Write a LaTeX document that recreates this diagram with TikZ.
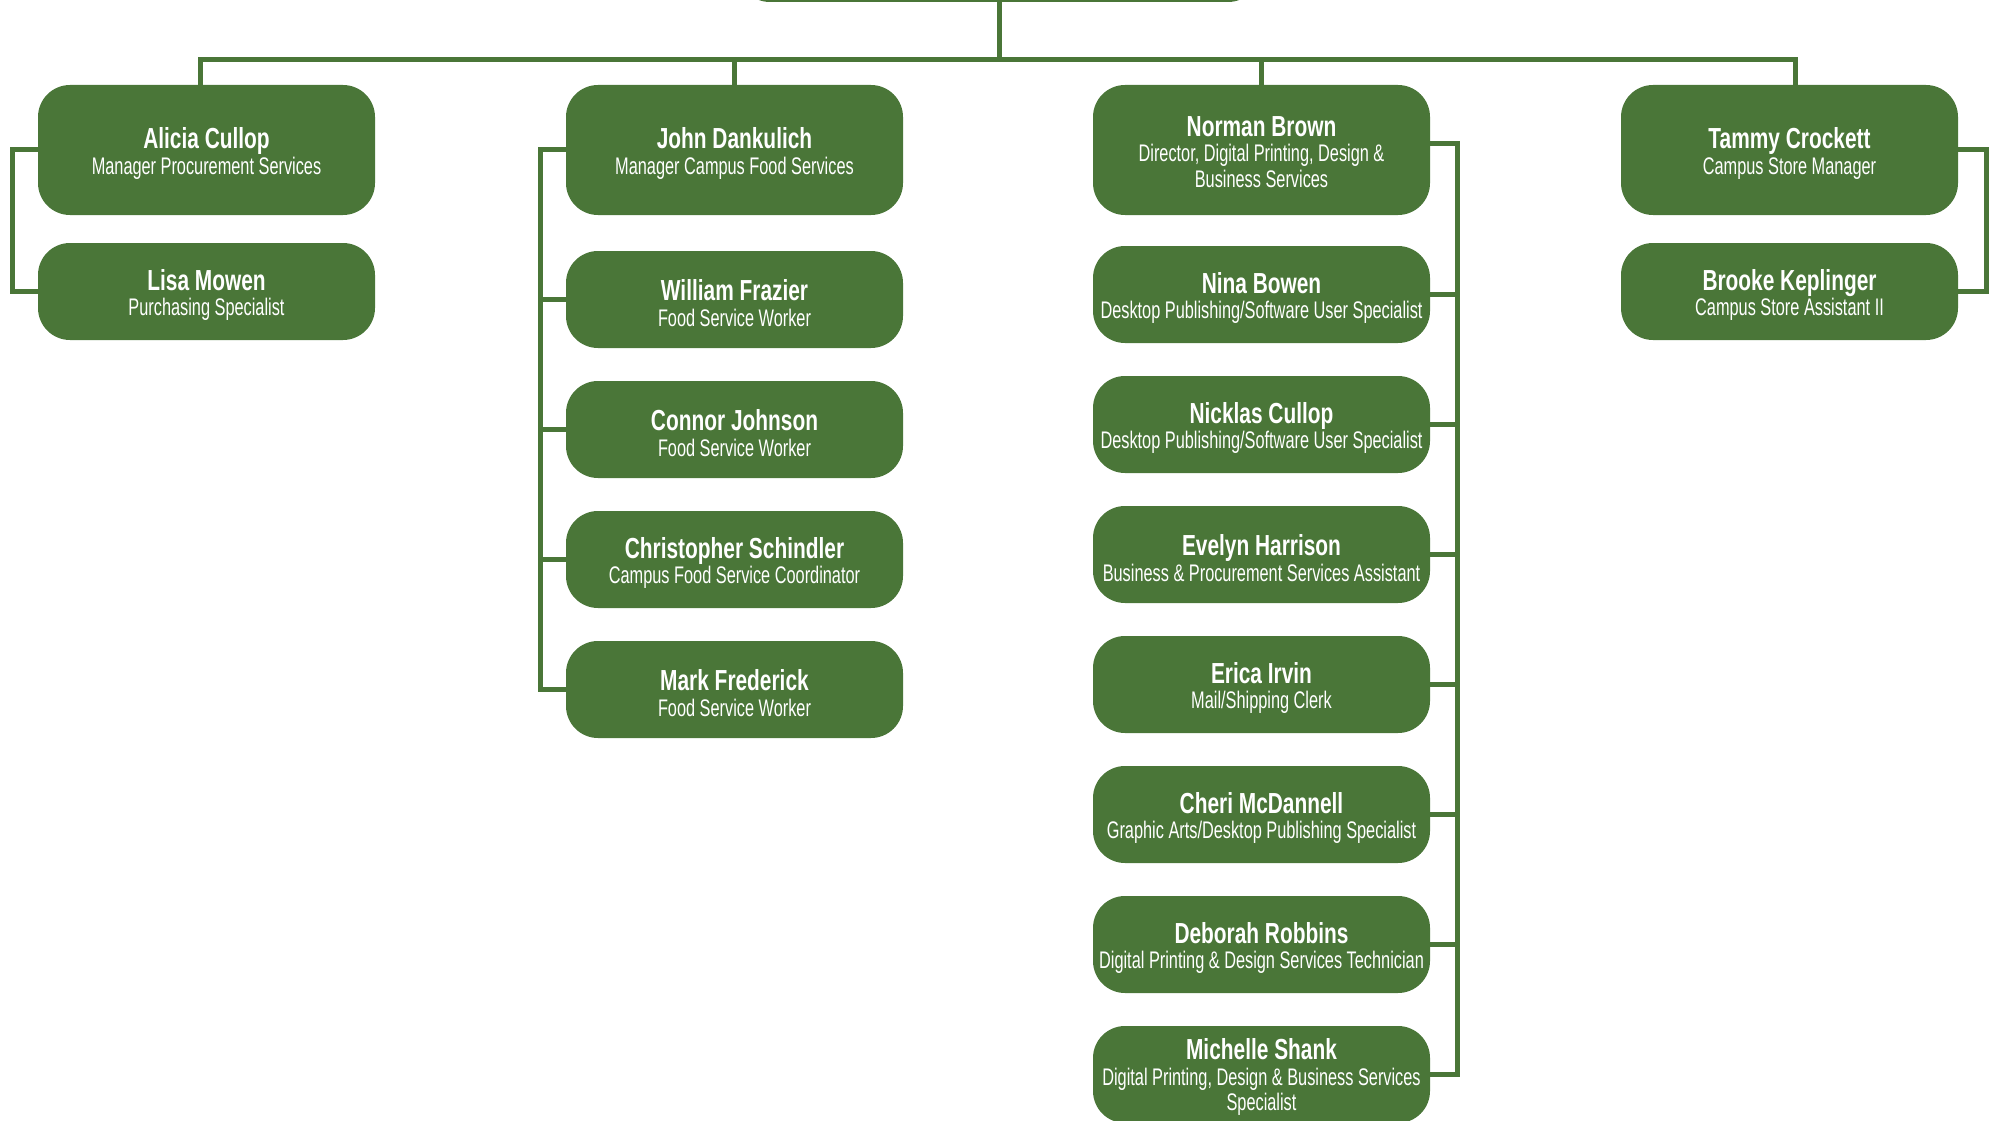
\documentclass[tikz,border=0pt]{standalone}
\usepackage{fontspec}
\newfontfamily\namefont[FakeStretch=0.72]{Liberation Sans}
\newfontfamily\titlefont[FakeStretch=0.68]{Liberation Sans}
\definecolor{orggreen}{RGB}{74,118,56}
\tikzset{
  bigbox/.style={rectangle, rounded corners=32pt, fill=orggreen,
    minimum width=337pt, minimum height=130pt, inner sep=0pt},
  smallbox/.style={bigbox, minimum height=97pt},
  txt/.style={text=white, align=center, inner sep=0pt, yshift=-3.5pt,
    font=\titlefont\fontsize{24}{25.5}\selectfont},
  link/.style={draw=orggreen, line width=5pt},
}
\newcommand{\nm}[1]{{\namefont\bfseries\fontsize{29}{26}\selectfont #1}}
\begin{document}
\begin{tikzpicture}[x=1pt,y=-1pt]
\useasboundingbox (0,0) rectangle (1995,1121);
% top box (cut off)
\node[bigbox, minimum width=522pt, minimum height=124pt] (top) at (999,-60) {};
% column 1
\node[bigbox, label={[txt]center:{\nm{Alicia Cullop}\\Manager Procurement Services}}] (alicia) at (206.5,150) {};
\node[smallbox, label={[txt]center:{\nm{Lisa Mowen}\\Purchasing Specialist}}] (lisa) at (206.5,291.5) {};
% column 2
\node[bigbox, label={[txt]center:{\nm{John Dankulich}\\Manager Campus Food Services}}] (john) at (734.5,150) {};
\node[smallbox, label={[txt]center:{\nm{William Frazier}\\Food Service Worker}}] (william) at (734.5,299.5) {};
\node[smallbox, label={[txt]center:{\nm{Connor Johnson}\\Food Service Worker}}] (connor) at (734.5,429.5) {};
\node[smallbox, label={[txt]center:{\nm{Christopher Schindler}\\Campus Food Service Coordinator}}] (chris) at (734.5,559.5) {};
\node[smallbox, label={[txt]center:{\nm{Mark Frederick}\\Food Service Worker}}] (mark) at (734.5,689.5) {};
% column 3
\node[bigbox, label={[txt,yshift=1.5pt]center:{\nm{Norman Brown}\\Director, Digital Printing, Design \&\\Business Services}}] (norman) at (1261.5,150) {};
\node[smallbox, label={[txt]center:{\nm{Nina Bowen}\\Desktop Publishing/Software User Specialist}}] (nina) at (1261.5,294.5) {};
\node[smallbox, label={[txt]center:{\nm{Nicklas Cullop}\\Desktop Publishing/Software User Specialist}}] (nicklas) at (1261.5,424.5) {};
\node[smallbox, label={[txt]center:{\nm{Evelyn Harrison}\\Business \& Procurement Services Assistant}}] (evelyn) at (1261.5,554.5) {};
\node[smallbox, label={[txt]center:{\nm{Erica Irvin}\\Mail/Shipping Clerk}}] (erica) at (1261.5,684.5) {};
\node[smallbox, label={[txt]center:{\nm{Cheri McDannell}\\Graphic Arts/Desktop Publishing Specialist}}] (cheri) at (1261.5,814.5) {};
\node[smallbox, label={[txt]center:{\nm{Deborah Robbins}\\Digital Printing \& Design Services Technician}}] (deborah) at (1261.5,944.5) {};
\node[smallbox, label={[txt,yshift=1pt]center:{\nm{Michelle Shank}\\Digital Printing, Design \& Business Services\\Specialist}}] (michelle) at (1261.5,1074.5) {};
% column 4
\node[bigbox, label={[txt]center:{\nm{Tammy Crockett}\\Campus Store Manager}}] (tammy) at (1789.5,150) {};
\node[smallbox, label={[txt]center:{\nm{Brooke Keplinger}\\Campus Store Assistant II}}] (brooke) at (1789.5,291.5) {};
% bus
\coordinate (busL) at (200,60);
\coordinate (busR) at (1795,60);
\coordinate (b1) at (12,0);
\coordinate (b2) at (540,0);
\coordinate (b3) at (1457,0);
\coordinate (b4) at (1986,0);
\draw[link] (top.south) -- (top.south |- busL);
\draw[link, line cap=rect] (busL) -- (busR);
\draw[link] (busL) -- (busL |- alicia.north);
\draw[link] (john.north |- busL) -- (john.north);
\draw[link] (norman.north |- busL) -- (norman.north);
\draw[link] (busR) -- (busR |- tammy.north);
% brackets
\draw[link] (alicia.west) -| (b1 |- lisa.west) -- (lisa.west);
\draw[link] (john.west) -| (b2 |- mark.west) -- (mark.west);
\foreach \n in {william,connor,chris} \draw[link] (b2 |- \n.west) -- (\n.west);
\draw[link] ([yshift=6pt]norman.east) -| (b3 |- michelle.east) -- (michelle.east);
\foreach \n in {nina,nicklas,evelyn,erica,cheri,deborah} \draw[link] (b3 |- \n.east) -- (\n.east);
\draw[link] (tammy.east) -| (b4 |- brooke.east) -- (brooke.east);
\end{tikzpicture}
\end{document}
